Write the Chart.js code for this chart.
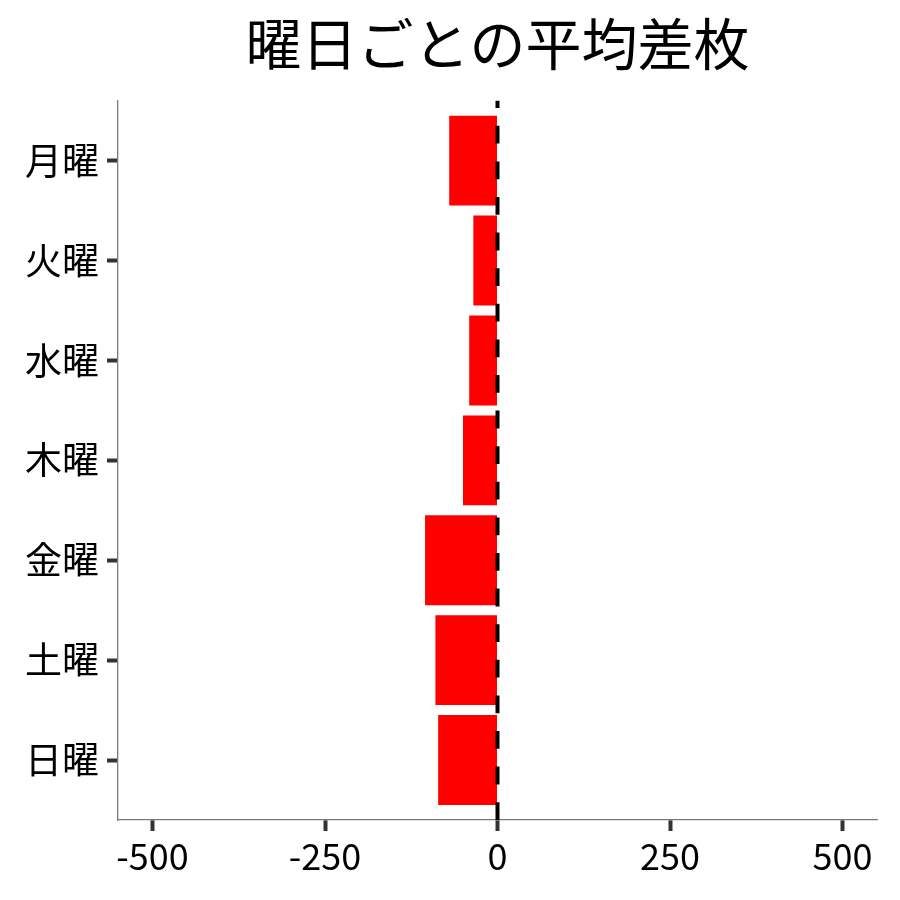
<!DOCTYPE html>
<html>
<head>
<meta charset="utf-8">
<script src="https://cdn.jsdelivr.net/npm/chart.js@4/dist/chart.umd.min.js"></script>
<style>
html,body{margin:0;padding:0;background:#fff;}
#wrap{width:900px;height:900px;}
</style>
</head>
<body>
<div id="wrap"><canvas id="c" width="900" height="900"></canvas></div>
<script>
const days = ["月曜","火曜","水曜","木曜","金曜","土曜","日曜"];
const avgDiff = [-70, -35, -41, -50, -105, -90, -86];
const xTicks = [-500, -250, 0, 250, 500];
const titleText = "曜日ごとの平均差枚";

const FONT = '"Noto Sans CJK JP", "Noto Sans", sans-serif';

const zeroLine = {
  id: 'zeroLine',
  afterDatasetsDraw(chart) {
    const {ctx, chartArea, scales} = chart;
    const x = scales.x.getPixelForValue(0);
    ctx.save();
    ctx.strokeStyle = '#000';
    ctx.lineWidth = 4;
    ctx.setLineDash([17.8, 17.8]);
    ctx.beginPath();
    ctx.moveTo(x, chartArea.bottom);
    ctx.lineTo(x, chartArea.top);
    ctx.stroke();
    ctx.restore();
  }
};

new Chart(document.getElementById('c'), {
  type: 'bar',
  data: {
    datasets: [{
      data: avgDiff.map((v, i) => ({x: v, y: i})),
      backgroundColor: '#ff0000',
      borderWidth: 0,
      barPercentage: 0.9,
      categoryPercentage: 1.0
    }]
  },
  options: {
    indexAxis: 'y',
    responsive: false,
    animation: false,
    devicePixelRatio: 1,
    layout: {padding: {left: 0, right: 23, top: 0, bottom: 0}},
    plugins: {
      legend: {display: false},
      tooltip: {enabled: false},
      title: {
        display: true,
        text: titleText,
        fullSize: false,
        color: '#000',
        font: {family: FONT, size: 56, weight: 'normal', lineHeight: 1.2},
        padding: {top: 10, bottom: 23.5}
      }
    },
    scales: {
      x: {
        type: 'linear',
        min: -550,
        max: 550,
        offset: false,
        afterBuildTicks: (s) => { s.ticks = xTicks.map(v => ({value: v})); },
        afterFit: (s) => { s.height = 80; },
        grid: {offset: false, drawOnChartArea: false, drawTicks: true, tickColor: '#333', tickWidth: 4, tickLength: 11},
        border: {display: true, color: '#7a7a7a', width: 1.3},
        ticks: {color: '#000', font: {family: FONT, size: 36}, padding: 4, maxRotation: 0,
                callback: (v) => String(v)}
      },
      y: {
        type: 'linear',
        reverse: true,
        min: -0.6,
        max: 6.6,
        offset: false,
        afterBuildTicks: (s) => { s.ticks = days.map((d, i) => ({value: i})); },
        afterFit: (s) => { s.width = 118; },
        grid: {offset: false, drawOnChartArea: false, drawTicks: true, tickColor: '#333', tickWidth: 4, tickLength: 11},
        border: {display: true, color: '#7a7a7a', width: 1.3},
        ticks: {color: '#000', font: {family: FONT, size: 37}, padding: 8,
                callback: (v) => days[v] ?? ''}
      }
    }
  },
  plugins: [zeroLine]
});
</script>
</body>
</html>
